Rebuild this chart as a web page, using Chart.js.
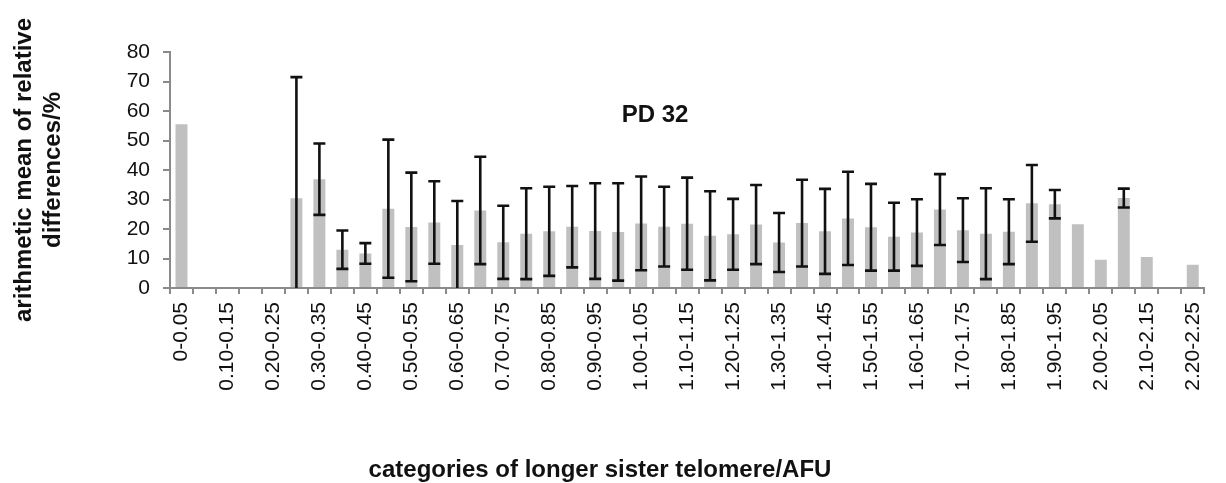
<!DOCTYPE html>
<html>
<head>
<meta charset="utf-8">
<script src="https://cdn.jsdelivr.net/npm/chart.js@4.4.1/dist/chart.umd.min.js"></script>
<style>
  body { margin: 0; background: #fff; }
  #wrap { width: 1226px; height: 483px; position: relative; }
</style>
</head>
<body>
<div id="wrap"><canvas id="myChart"></canvas></div>
<script>
// Categories of longer sister telomere (AFU), 0.05 wide
const categories = [
  "0-0.05", "0.05-0.10", "0.10-0.15", "0.15-0.20", "0.20-0.25", "0.25-0.30",
  "0.30-0.35", "0.35-0.40", "0.40-0.45", "0.45-0.50", "0.50-0.55", "0.55-0.60",
  "0.60-0.65", "0.65-0.70", "0.70-0.75", "0.75-0.80", "0.80-0.85", "0.85-0.90",
  "0.90-0.95", "0.95-1.00", "1.00-1.05", "1.05-1.10", "1.10-1.15", "1.15-1.20",
  "1.20-1.25", "1.25-1.30", "1.30-1.35", "1.35-1.40", "1.40-1.45", "1.45-1.50",
  "1.50-1.55", "1.55-1.60", "1.60-1.65", "1.65-1.70", "1.70-1.75", "1.75-1.80",
  "1.80-1.85", "1.85-1.90", "1.90-1.95", "1.95-2.00", "2.00-2.05", "2.05-2.10",
  "2.10-2.15", "2.15-2.20", "2.20-2.25"
];

// Arithmetic mean of relative differences (%)
const meanValues = [
  55.5, 0, 0, 0, 0, 30.4,
  36.9, 13.0, 11.7, 26.9, 20.7, 22.2,
  14.6, 26.3, 15.5, 18.4, 19.2, 20.8,
  19.3, 19.0, 21.9, 20.8, 21.8, 17.7,
  18.2, 21.5, 15.4, 22.0, 19.2, 23.6,
  20.6, 17.4, 18.8, 26.6, 19.6, 18.4,
  19.1, 28.7, 28.4, 21.6, 9.6, 30.5,
  10.5, 0, 7.9
];

// Standard deviation (error bar half length), null = no error bar
const sdValues = [
  null, null, null, null, null, 41.1,
  12.1, 6.5, 3.5, 23.4, 18.4, 14.0,
  14.9, 18.2, 12.4, 15.4, 15.1, 13.8,
  16.2, 16.5, 15.9, 13.5, 15.6, 15.1,
  12.0, 13.4, 10.0, 14.7, 14.4, 15.8,
  14.7, 11.5, 11.3, 12.0, 10.8, 15.4,
  11.0, 13.0, 4.8, null, null, 3.2,
  null, null, null
];

// Y axis ticks
const yTicks = [0, 10, 20, 30, 40, 50, 60, 70, 80];

const chartTitle = "PD 32";
const xTitle = "categories of longer sister telomere/AFU";
const yTitle = ["arithmetic mean of relative", "differences/%"];

const fontFamily = "'Liberation Sans', Arial, sans-serif";
const textColor = "#111";
const axisColor = "#8a8a8a";

// Draws error bars, clipped at zero (no lower cap when clipped)
const errorBarPlugin = {
  id: "errorBars",
  afterDatasetsDraw(chart) {
    const ctx = chart.ctx;
    const yScale = chart.scales.y;
    const meta = chart.getDatasetMeta(0);
    ctx.save();
    ctx.strokeStyle = "#111";
    ctx.lineWidth = 2.6;
    const cap = 6;
    for (let i = 0; i < sdValues.length; i++) {
      const sd = sdValues[i];
      if (sd === null) continue;
      const x = meta.data[i].x;
      const hi = meanValues[i] + sd;
      const lo = meanValues[i] - sd;
      const yHi = yScale.getPixelForValue(hi);
      const yLo = yScale.getPixelForValue(Math.max(0, lo));
      ctx.beginPath();
      ctx.moveTo(x, yLo);
      ctx.lineTo(x, yHi);
      ctx.moveTo(x - cap, yHi);
      ctx.lineTo(x + cap, yHi);
      if (lo > 0) {
        ctx.moveTo(x - cap, yLo);
        ctx.lineTo(x + cap, yLo);
      }
      ctx.stroke();
    }
    ctx.restore();
  },
};

// Chart title inside plot and x axis title (off centre like the original)
const titlesPlugin = {
  id: "titles",
  afterDraw(chart) {
    const ctx = chart.ctx;
    ctx.save();
    ctx.fillStyle = textColor;
    ctx.textAlign = "center";
    ctx.textBaseline = "alphabetic";
    ctx.font = "bold 24px " + fontFamily;
    ctx.fillText(chartTitle, 655, 122);
    ctx.fillText(xTitle, 600, 477);
    ctx.restore();
  },
};

const ctx = document.getElementById("myChart").getContext("2d");
const chart = new Chart(ctx, {
  type: "bar",
  data: {
    labels: categories,
    datasets: [
      {
        label: "mean",
        data: meanValues,
        backgroundColor: "#c0c0c0",
        borderWidth: 0,
        barPercentage: 0.52,
        categoryPercentage: 1,
      },
    ],
  },
  options: {
    responsive: true,
    maintainAspectRatio: false,
    animation: false,
    layout: {
      padding: { left: 0, top: 52, right: 4, bottom: 0 },
    },
    plugins: {
      legend: { display: false },
      tooltip: { enabled: false },
    },
    scales: {
      x: {
        grid: {
          drawOnChartArea: false,
          drawTicks: true,
          tickLength: 6,
          color: axisColor,
          lineWidth: 2,
        },
        border: { color: axisColor, width: 2 },
        ticks: {
          autoSkip: false,
          minRotation: 90,
          maxRotation: 90,
          padding: 8,
          color: textColor,
          font: { family: fontFamily, size: 21 },
          callback: function (value, index) {
            return index % 2 === 0 ? categories[index] : "";
          },
        },
        afterFit: function (scale) {
          scale.height = 195;
        },
      },
      y: {
        min: 0,
        max: 80,
        afterBuildTicks: function (scale) {
          scale.ticks = yTicks.map((v) => ({ value: v }));
        },
        grid: {
          drawOnChartArea: false,
          drawTicks: true,
          tickLength: 7,
          color: axisColor,
          lineWidth: 2,
        },
        border: { color: axisColor, width: 2 },
        ticks: {
          padding: 13,
          color: textColor,
          font: { family: fontFamily, size: 21 },
        },
        title: {
          display: true,
          text: yTitle,
          color: textColor,
          font: { family: fontFamily, size: 24, weight: "bold", lineHeight: 1.2 },
          padding: { top: 10, bottom: 0 },
        },
        afterFit: function (scale) {
          scale.width = 170;
        },
      },
    },
  },
  plugins: [errorBarPlugin, titlesPlugin],
});
</script>
</body>
</html>
